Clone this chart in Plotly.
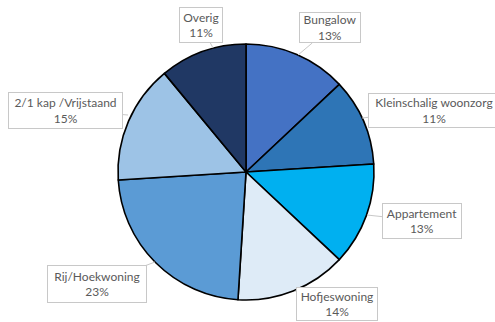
import plotly.graph_objects as go

categories = ["Bungalow", "Kleinschalig woonzorg", "Appartement", "Hofjeswoning",
              "Rij/Hoekwoning", "2/1 kap /Vrijstaand", "Overig"]
percentages = [13, 11, 13, 14, 23, 15, 11]
slice_colors = ["#4472C4", "#2E75B6", "#00B0F0", "#DEEBF7", "#5B9BD5", "#9DC3E6", "#203864"]

W, H = 495, 322

# callout layout (pixels): tip on pie edge, box centre offset, box size
tips = [(298, 55), (362, 118), (367, 215), (295, 291), (155, 262), (128, 115), (213, 48)]
box_centres = [(330, 28), (434, 110), (422, 221), (337, 304), (97, 284), (65, 110), (201, 25)]
box_sizes = [(62, 31), (132, 35), (80, 36), (82, 34), (100, 38), (115, 37), (44, 36)]

fig = go.Figure()
fig.add_trace(go.Pie(
    labels=categories,
    values=percentages,
    sort=False,
    direction="clockwise",
    rotation=0,
    textinfo="none",
    hoverinfo="label+percent",
    marker=dict(colors=slice_colors, line=dict(color="#000000", width=1.6)),
    domain=dict(x=[118 / W, 374 / W], y=[22 / H, 278 / H]),
    showlegend=False,
))

for cat, pct, (tx, ty), (bx, by), (bw, bh) in zip(categories, percentages, tips, box_centres, box_sizes):
    fig.add_annotation(
        xref="paper", yref="paper",
        x=tx / W, y=1 - ty / H,
        ax=bx - tx, ay=by - ty,
        axref="pixel", ayref="pixel",
        text=f"{cat}<br>{pct}%",
        showarrow=True, arrowhead=0, arrowwidth=1, arrowcolor="#c8c8c8",
        font=dict(family="Lato", size=12, color="#5a5a5a"),
        align="center",
        bgcolor="#ffffff", bordercolor="#c8c8c8", borderwidth=1, borderpad=0,
        width=bw - 2, height=bh - 2,
    )

fig.update_layout(
    width=W, height=H,
    margin=dict(l=0, r=0, t=0, b=0),
    paper_bgcolor="#ffffff",
    plot_bgcolor="#ffffff",
)

fig.write_html("out.html")
